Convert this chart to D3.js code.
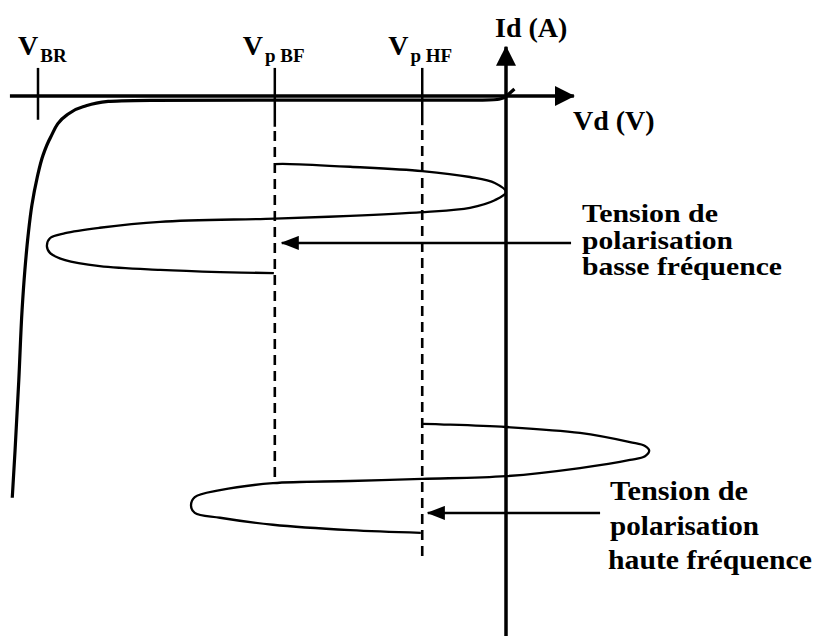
<!DOCTYPE html>
<html>
<head>
<meta charset="utf-8">
<script src="https://cdn.jsdelivr.net/npm/d3@7"></script>
<style>
  body { margin: 0; background: #fff; }
  text { font-family: "Liberation Serif", "Times New Roman", serif; font-weight: bold; fill: #000; }
</style>
</head>
<body>
<script>
// Vd (arbitrary units, V_BR = -100), Id (arbitrary units)
var vBR = -100, vpBF = -49.4, vpHF = -17.9;

// I-V characteristic of the diode (breakdown curve)
var curveVd = [1.8, 0, -1.5, -5, -27, -53, -76, -85, -90.4, -93.8, -97.4, -98.9, -100.2, -101.3, -102.1, -102.8, -103.4, -104.1, -104.9, -105.5];
var curveId = [1.3, -0.1, -0.6, -0.75, -0.75, -0.75, -0.8, -1, -2, -3.5, -7.8, -10.9, -15.2, -20.2, -25.7, -32.2, -39.6, -52.6, -65.6, -74.4];

// low frequency bias excursion (around Vp BF)
var bfVd = [-49.4, -46.2, -33.3, -17.9, -7.7, -2.4, 0, -2.4, -7.7, -17.9, -33.3, -49.4, -73.9, -86.8, -94.2, -97.4, -98.1, -97.4, -94.2, -86.8, -73.9, -61.1, -49.6];
var bfT  = [-12.6, -12.6, -13.1, -13.9, -15.0, -16.1, -17.8, -19.3, -20.7, -21.5, -22.2, -22.7, -23.3, -24.4, -25.4, -26.3, -27.8, -29.1, -30.4, -31.5, -32.2, -32.6, -32.8];

// high frequency bias excursion (around Vp HF)
var hfVd = [-17.9, -14.1, 0, 15.8, 26.5, 29.7, 30.6, 29.7, 26.5, 15.8, 0, -17.9, -33.3, -49.8, -61.1, -66.5, -67.3, -66.5, -61.1, -49.8, -33.3, -18.2];
var hfT  = [-60.7, -60.8, -61.3, -62.4, -64.1, -64.8, -65.7, -66.7, -67.4, -68.9, -70.4, -70.9, -71.3, -71.7, -73, -74.3, -75.9, -77.2, -78.1, -79.4, -80.4, -80.9];

var bfText = ["Tension de", "polarisation", "basse fréquence"];
var hfText = ["Tension de", "polarisation", "haute fréquence"];

var width = 820, height = 643;

var x = d3.scaleLinear().domain([-100, 0]).range([38, 506]);
var y = d3.scaleLinear().domain([0, -100]).range([96, 636]);

var svg = d3.select("body").append("svg")
    .attr("width", width)
    .attr("height", height);

var defs = svg.append("defs");
defs.append("marker")
    .attr("id", "axisHead")
    .attr("viewBox", "0 0 20 20")
    .attr("refX", 19).attr("refY", 10)
    .attr("markerWidth", 20).attr("markerHeight", 20)
    .attr("markerUnits", "userSpaceOnUse")
    .attr("orient", "auto")
    .append("path").attr("d", "M0,0L20,10L0,20Z").attr("fill", "#000");
defs.append("marker")
    .attr("id", "noteHead")
    .attr("viewBox", "0 0 18 14")
    .attr("refX", 17).attr("refY", 7)
    .attr("markerWidth", 18).attr("markerHeight", 14)
    .attr("markerUnits", "userSpaceOnUse")
    .attr("orient", "auto")
    .append("path").attr("d", "M0,0L18,7L0,14Z").attr("fill", "#000");

// axes
svg.append("line")
    .attr("x1", x(-106)).attr("y1", y(0))
    .attr("x2", x(14.5)).attr("y2", y(0))
    .attr("stroke", "#000").attr("stroke-width", 3.5)
    .attr("marker-end", "url(#axisHead)");
svg.append("line")
    .attr("x1", x(0)).attr("y1", y(-100))
    .attr("x2", x(0)).attr("y2", y(9.1))
    .attr("stroke", "#000").attr("stroke-width", 3.5)
    .attr("marker-end", "url(#axisHead)");

// ticks
var ticks = [[vBR, 5.2, -4.4], [vpBF, 5.2, -5.7], [vpHF, 5.2, -5.4]];
svg.selectAll(".tick").data(ticks).join("line")
    .attr("class", "tick")
    .attr("x1", d => x(d[0])).attr("x2", d => x(d[0]))
    .attr("y1", d => y(d[1])).attr("y2", d => y(d[2]))
    .attr("stroke", "#000").attr("stroke-width", 2.5);

// dashed bias lines
var dashes = [[vpBF, -6.5, -71.7], [vpHF, -6.3, -85.6]];
svg.selectAll(".dash").data(dashes).join("line")
    .attr("class", "dash")
    .attr("x1", d => x(d[0])).attr("x2", d => x(d[0]))
    .attr("y1", d => y(d[1])).attr("y2", d => y(d[2]))
    .attr("stroke", "#000").attr("stroke-width", 2.6)
    .attr("stroke-dasharray", "10,6");

var line = d3.line()
    .x(d => x(d[0]))
    .y(d => y(d[1]))
    .curve(d3.curveCatmullRom.alpha(0.5));

svg.append("path")
    .attr("d", d3.line().x(d => x(d[0])).y(d => y(d[1])).curve(d3.curveMonotoneY)(d3.zip(curveVd, curveId).slice(1)))
    .attr("fill", "none").attr("stroke", "#000").attr("stroke-width", 3.2);
svg.append("path")
    .attr("d", d3.line().x(d => x(d[0])).y(d => y(d[1]))(d3.zip(curveVd, curveId).slice(0, 2)))
    .attr("fill", "none").attr("stroke", "#000").attr("stroke-width", 3.2);

svg.append("path")
    .attr("d", line(d3.zip(bfVd, bfT)))
    .attr("fill", "none").attr("stroke", "#000").attr("stroke-width", 2.3);

svg.append("path")
    .attr("d", line(d3.zip(hfVd, hfT)))
    .attr("fill", "none").attr("stroke", "#000").attr("stroke-width", 2.3);

// annotation arrows
var notes = [[13.9, -47.9, -27.2], [20.1, -16.7, -77.2]];
svg.selectAll(".note").data(notes).join("line")
    .attr("class", "note")
    .attr("x1", d => x(d[0])).attr("x2", d => x(d[1]))
    .attr("y1", d => y(d[2])).attr("y2", d => y(d[2]))
    .attr("stroke", "#000").attr("stroke-width", 2.5)
    .attr("marker-end", "url(#noteHead)");

// V labels
var vLabels = [[vBR, -20, "BR", 2], [vpBF, -32, "p BF", 2], [vpHF, -34, "p HF", 2]];
vLabels.forEach(function (d) {
    var t = svg.append("text")
        .attr("x", x(d[0]) + d[1])
        .attr("y", 55)
        .style("font-size", "28px")
        .text("V");
    t.append("tspan")
        .attr("dx", d[3])
        .attr("dy", 7)
        .style("font-size", "19px")
        .style("white-space", "pre")
        .text(d[2]);
});

svg.append("text").attr("x", 495).attr("y", 37).style("font-size", "28px").text("Id (A)");
svg.append("text").attr("x", 573).attr("y", 130).style("font-size", "28px").text("Vd (V)");

var bfWidths = [136, 151, 200], hfWidths = [138, 149, 204];

svg.selectAll(".bf").data(bfText).join("text")
    .attr("class", "bf")
    .attr("x", 582)
    .attr("y", (d, i) => 222 + i * 26.5)
    .attr("textLength", (d, i) => bfWidths[i])
    .attr("lengthAdjust", "spacingAndGlyphs")
    .style("font-size", "26px")
    .text(d => d);

svg.selectAll(".hf").data(hfText).join("text")
    .attr("class", "hf")
    .attr("x", (d, i) => i === 2 ? 608 : 610)
    .attr("y", (d, i) => 500 + i * 34.5)
    .attr("textLength", (d, i) => hfWidths[i])
    .attr("lengthAdjust", "spacingAndGlyphs")
    .style("font-size", "27px")
    .text(d => d);
</script>
</body>
</html>
